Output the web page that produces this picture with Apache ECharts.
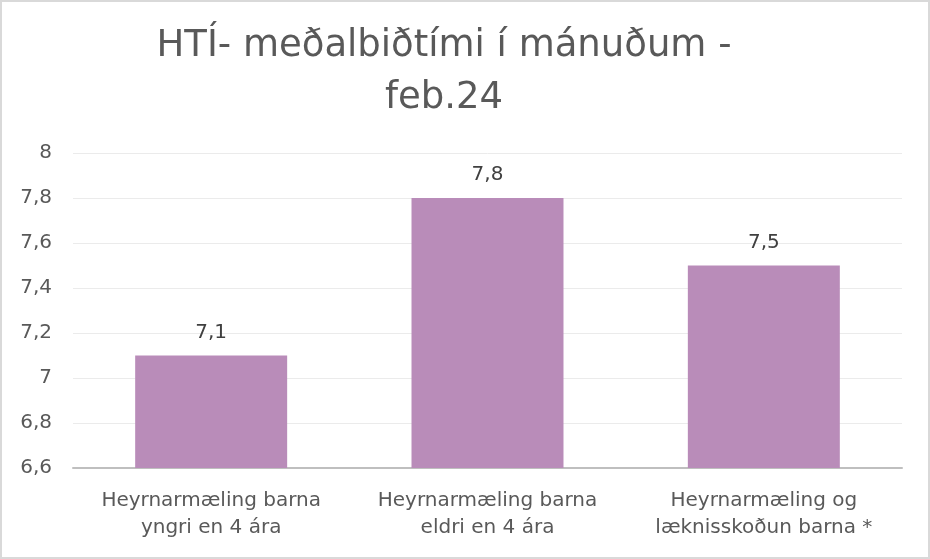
<!DOCTYPE html>
<html><head><meta charset="utf-8">
<script src="https://cdn.jsdelivr.net/npm/echarts@6/dist/echarts.min.js"></script>
<style>
html,body{margin:0;padding:0;background:#fff;}
#c{width:930px;height:559px;box-sizing:border-box;border:2px solid #d9d9d9;}
</style></head>
<body><div id="c"></div>
<script>
const titleText = 'HTÍ- meðalbiðtími í mánuðum -\nfeb.24';
const categories = ['Heyrnarmæling barna\nyngri en 4 ára', 'Heyrnarmæling barna\neldri en 4 ára', 'Heyrnarmæling og\nlæknisskoðun barna *'];
const values = [7.1, 7.8, 7.5];
const yMin = 6.6, yMax = 8, yStep = 0.2;

const fmt = v => (Math.round(v*10)/10).toString().replace('.', ',');
const font = 'DejaVu Sans';
const chart = echarts.init(document.getElementById('c'));
chart.setOption({
  animation:false,
  title:{text:titleText,left:437,top:13,textAlign:'center',
    textStyle:{fontFamily:font,fontSize:37,fontWeight:'normal',color:'#595959',lineHeight:52}},
  grid:{left:71,right:26,top:151,bottom:89},
  xAxis:{type:'category',data:categories,
    axisLine:{lineStyle:{color:'#bfbfbf',width:2}},axisTick:{show:false},
    axisLabel:{fontFamily:font,fontSize:20,color:'#595959',lineHeight:27,margin:19,interval:0}},
  yAxis:{type:'value',min:yMin,max:yMax,interval:yStep,
    axisLine:{show:false},axisTick:{show:false},
    splitLine:{lineStyle:{color:'#ebebeb',width:1}},
    axisLabel:{fontFamily:font,fontSize:20,color:'#595959',margin:21,formatter:fmt}},
  series:[{type:'bar',data:values,barWidth:'55%',
    itemStyle:{color:'#b98cb9'},
    label:{show:true,position:'top',distance:13,fontFamily:font,fontSize:20,color:'#404040',formatter:p=>fmt(p.value)}}]
});
</script></body></html>
